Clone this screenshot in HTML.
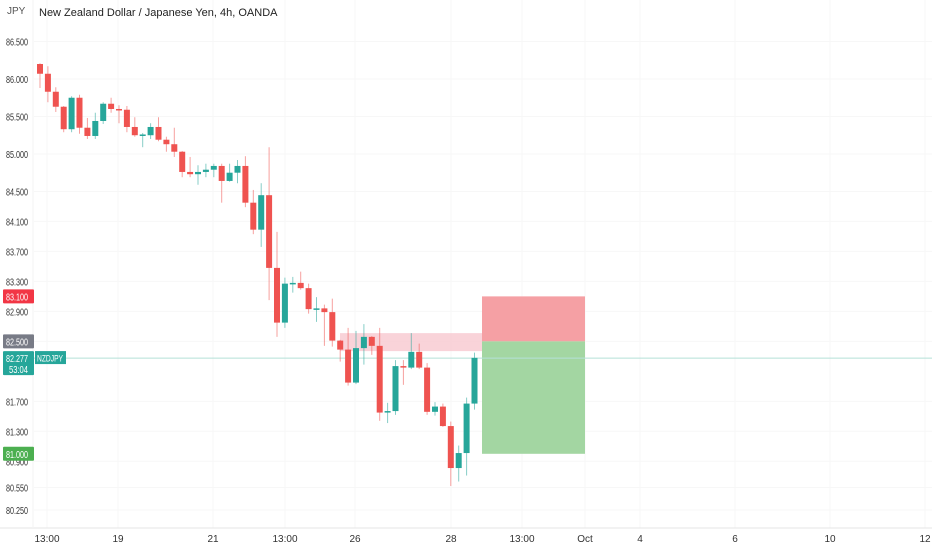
<!DOCTYPE html>
<html><head><meta charset="utf-8"><style>
html,body{margin:0;padding:0;background:#fff;}
svg{display:block;font-family:"Liberation Sans",sans-serif;}
</style></head><body>
<svg id="c" width="932" height="550" viewBox="0 0 932 550">
<g id="grid"></g>
<g id="zones"></g>
<g id="candles"></g>
<g id="axes"></g>
<text x="7" y="14" font-size="10" fill="#555">JPY</text>
<text x="39" y="16" font-size="11" fill="#222">New Zealand Dollar / Japanese Yen, 4h, OANDA</text>
</svg>
<script>
const opens  = [86.20,86.07,85.83,85.63,85.33,85.75,85.35,85.24,85.44,85.67,85.60,85.59,85.36,85.25,85.25,85.36,85.19,85.13,85.03,84.76,84.73,84.76,84.79,84.84,84.64,84.75,84.84,84.35,83.99,84.45,83.48,82.75,83.27,83.28,83.21,82.93,82.94,82.89,82.51,82.39,81.95,82.41,82.56,82.44,81.55,81.57,82.17,82.15,82.36,82.15,81.56,81.63,81.37,80.81,81.01,81.67];
const closes = [86.07,85.83,85.63,85.33,85.75,85.35,85.24,85.44,85.67,85.60,85.59,85.36,85.25,85.26,85.36,85.19,85.13,85.03,84.76,84.73,84.76,84.79,84.84,84.64,84.75,84.84,84.35,83.99,84.45,83.48,82.75,83.27,83.28,83.21,82.93,82.94,82.89,82.51,82.39,81.95,82.41,82.56,82.44,81.55,81.57,82.17,82.15,82.36,82.15,81.56,81.63,81.37,80.81,81.01,81.67,82.28];
const highs  = [86.21,86.17,85.89,85.64,85.77,85.79,85.48,85.55,85.69,85.75,85.65,85.64,85.49,85.28,85.41,85.49,85.23,85.35,85.04,84.96,84.85,84.87,84.87,84.87,84.87,84.92,84.97,84.52,84.61,85.09,83.96,83.35,83.36,83.43,83.27,83.09,82.99,83.07,82.52,82.68,82.64,82.73,82.57,82.68,81.68,82.25,82.25,82.61,82.47,82.21,81.69,81.67,81.43,81.11,81.75,82.35];
const lows   = [85.88,85.69,85.56,85.29,85.29,85.27,85.20,85.20,85.40,85.55,85.41,85.29,85.23,85.09,85.20,85.17,85.03,84.96,84.69,84.69,84.59,84.69,84.69,84.35,84.63,84.61,84.29,83.93,83.76,83.05,82.56,82.68,83.15,83.19,82.87,82.76,82.44,82.43,82.23,81.91,81.93,82.19,82.32,81.44,81.41,81.52,81.92,82.13,82.13,81.52,81.51,81.36,80.57,80.63,80.71,81.59];
const priceTicks = [86.5,86.0,85.5,85.0,84.5,84.1,83.7,83.3,82.9,82.5,81.7,81.3,80.9,80.55,80.25];
const timeLabels = ["13:00","19","21","13:00","26","28","13:00","Oct","4","6","10","12"];
const timePos = [47,118,213,285,355,451,522,585,640,735,830,925];
const lastPrice = 82.277;
const zoneTop = 82.61, zoneBot = 82.37;
const stopPrice = 83.10, entryPrice = 82.50, targetPrice = 81.00;

const NS="http://www.w3.org/2000/svg";
function y(p){return 79+(86-p)*74.96;}
function x(i){return 40+7.9*i;}
function el(tag,attrs,parent){const e=document.createElementNS(NS,tag);for(const k in attrs)e.setAttribute(k,attrs[k]);parent.appendChild(e);return e;}
const grid=document.getElementById('grid'),zones=document.getElementById('zones'),cg=document.getElementById('candles'),ax=document.getElementById('axes');

priceTicks.forEach(p=>{const l=el('line',{x1:34,x2:932,y1:y(p),y2:y(p),stroke:'#f7f7f7'},grid);

});
timePos.forEach(t=>{const l=el('line',{x1:t,x2:t,y1:0,y2:528,stroke:'#f7f7f7'},grid);

});

let z=el('rect',{x:340,y:y(zoneTop),width:142,height:y(zoneBot)-y(zoneTop),fill:'#f8c8d0',opacity:0.8},zones);


z=el('rect',{x:482,y:y(stopPrice),width:103,height:y(entryPrice)-y(stopPrice),fill:'#f5a0a4'},zones);


z=el('rect',{x:482,y:y(entryPrice),width:103,height:y(targetPrice)-y(entryPrice),fill:'#a3d6a2'},zones);


z=el('line',{x1:34,x2:932,y1:y(lastPrice),y2:y(lastPrice),stroke:'#b5e0d8','stroke-width':1},zones);



opens.forEach((o,i)=>{const c=closes[i],up=c>=o,col=up?'#26a69a':'#ef5350',cx=x(i);
const w=el('line',{x1:cx,x2:cx,y1:y(highs[i]),y2:y(lows[i]),stroke:col,'stroke-width':1,opacity:0.55},cg);


const top=y(Math.max(o,c)),h=Math.max(1.5,Math.abs(y(o)-y(c)));
const b=el('rect',{x:cx-3,y:top,width:6,height:h,fill:col},cg);

});

el('line',{x1:0,x2:932,y1:528,y2:528,stroke:'#e6e6e6'},ax);
el('line',{x1:33,x2:33,y1:0,y2:528,stroke:'#f3f3f3'},ax);
priceTicks.forEach(p=>{const t=el('text',{x:6,y:y(p)+4,'font-size':10,fill:'#333',textLength:22,lengthAdjust:'spacingAndGlyphs'},ax);t.textContent=p.toFixed(3);

});
timeLabels.forEach((s,i)=>{const t=el('text',{x:timePos[i],y:542,'font-size':10,fill:'#333','text-anchor':'middle'},ax);t.textContent=s;

});

function badge(p,txt,bg,name,h){const yy=y(p);const g=el('g',{},ax);


el('rect',{x:3,y:yy-7,width:31,height:h||14,fill:bg,rx:1},g);
const t=el('text',{x:6,y:yy+4,'font-size':10,fill:'#fff',textLength:22,lengthAdjust:'spacingAndGlyphs'},g);t.textContent=txt;return g;}
badge(stopPrice,'83.100','#f23645','stop-price-badge');
badge(entryPrice,'82.500','#787b86','entry-price-badge');
badge(targetPrice,'81.000','#4caf50','target-price-badge');
const g=badge(lastPrice,'82.277','#26a69a','last-price-badge',24);
const t2=el('text',{x:9,y:y(lastPrice)+15,'font-size':10,fill:'#fff',textLength:19,lengthAdjust:'spacingAndGlyphs'},g);t2.textContent='53:04';
const sr=el('rect',{x:35,y:y(lastPrice)-7,width:31,height:13,fill:'#26a69a'},ax);


const st=el('text',{x:37,y:y(lastPrice)+3.5,'font-size':9.5,fill:'#fff',textLength:26,lengthAdjust:'spacingAndGlyphs'},ax);st.textContent='NZDJPY';


</script>
</body></html>
